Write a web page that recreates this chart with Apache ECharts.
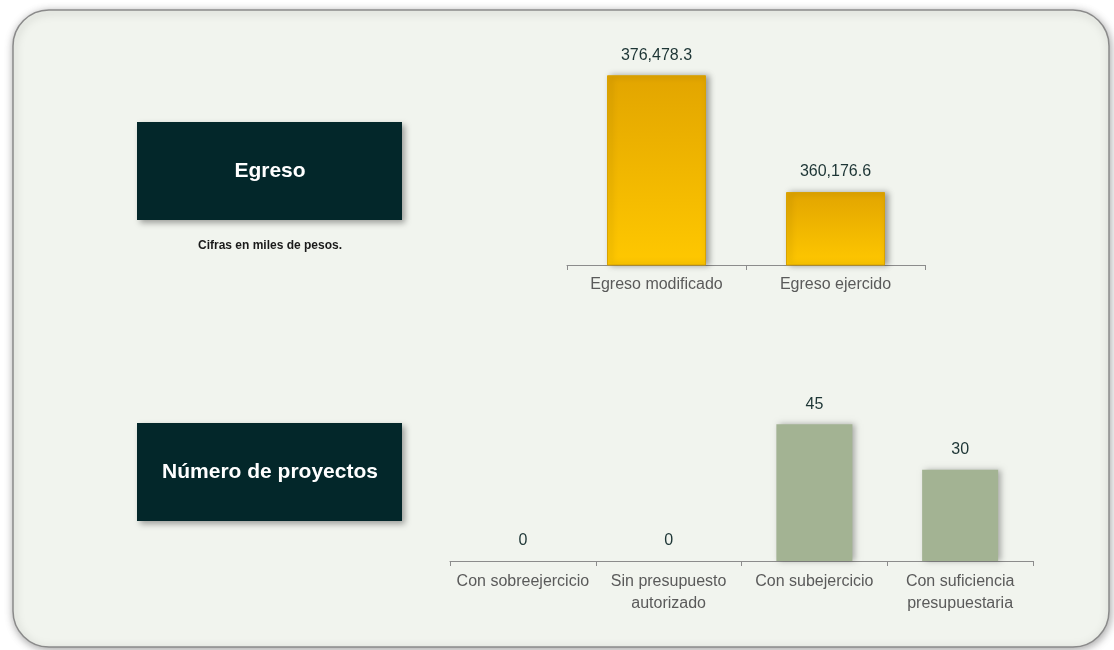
<!DOCTYPE html>
<html>
<head>
<meta charset="utf-8">
<script src="https://cdn.jsdelivr.net/npm/echarts@6/dist/echarts.min.js"></script>
<style>
  html, body { margin: 0; padding: 0; background: #ffffff; }
  #chart { width: 1114px; height: 650px; }
</style>
</head>
<body>
<div id="chart"></div>
<script>
// datos del egreso (miles de pesos)
var egresoCategorias = ['Egreso modificado', 'Egreso ejercido'];
var egresoValores = [376478.3, 360176.6];

// número de proyectos
var proyectosCategorias = ['Con sobreejercicio', 'Sin presupuesto\nautorizado', 'Con subejercicio', 'Con suficiencia\npresupuestaria'];
var proyectosValores = [0, 0, 45, 30];

var myChart = echarts.init(document.getElementById('chart'));

function formatoMiles(v) {
    var partes = v.toFixed(1).split('.');
    return partes[0].replace(/\B(?=(\d{3})+(?!\d))/g, ',') + '.' + partes[1];
}

var fuente = 'Arial, "Liberation Sans", sans-serif';
var labelColor = '#1d3535';
var catColor = '#5a5a5a';

var option = {
    backgroundColor: '#ffffff',
    animation: false,
    graphic: [
        // panel de fondo
        {
            type: 'rect',
            shape: { x: 13, y: 10, width: 1096, height: 637, r: 36 },
            style: {
                fill: '#f1f4ee',
                stroke: '#8a8a8a',
                lineWidth: 1.5,
                shadowColor: 'rgba(0,0,0,0.35)',
                shadowBlur: 8,
                shadowOffsetX: 1,
                shadowOffsetY: 2
            },
            z: -10
        },
        // caja Egreso
        {
            type: 'rect',
            shape: { x: 137, y: 122, width: 265, height: 98 },
            style: {
                fill: '#03272a',
                shadowColor: 'rgba(0,0,0,0.35)',
                shadowBlur: 6,
                shadowOffsetX: 3,
                shadowOffsetY: 3
            },
            z: 1
        },
        {
            type: 'text',
            x: 270, y: 171,
            style: {
                text: 'Egreso',
                fill: '#ffffff',
                font: 'bold 21px ' + fuente,
                align: 'center',
                verticalAlign: 'middle'
            },
            z: 2
        },
        {
            type: 'text',
            x: 270, y: 246,
            style: {
                text: 'Cifras en miles de pesos.',
                fill: '#1a1a1a',
                font: 'bold 12px ' + fuente,
                align: 'center',
                verticalAlign: 'middle'
            },
            z: 2
        },
        // caja Número de proyectos
        {
            type: 'rect',
            shape: { x: 137, y: 423, width: 265, height: 98 },
            style: {
                fill: '#03272a',
                shadowColor: 'rgba(0,0,0,0.35)',
                shadowBlur: 6,
                shadowOffsetX: 3,
                shadowOffsetY: 3
            },
            z: 1
        },
        {
            type: 'text',
            x: 270, y: 472,
            style: {
                text: 'Número de proyectos',
                fill: '#ffffff',
                font: 'bold 21px ' + fuente,
                align: 'center',
                verticalAlign: 'middle'
            },
            z: 2
        }
    ],
    grid: [
        { left: 567, top: 50, width: 358, height: 215 },
        { left: 450, top: 409, width: 583, height: 152 }
    ],
    xAxis: [
        {
            gridIndex: 0,
            type: 'category',
            data: egresoCategorias,
            axisLine: { lineStyle: { color: '#8c8c8c', width: 1 } },
            axisTick: { show: true, length: 5, lineStyle: { color: '#8c8c8c' } },
            axisLabel: { color: catColor, fontSize: 16, fontFamily: fuente, margin: 12 }
        },
        {
            gridIndex: 1,
            type: 'category',
            data: proyectosCategorias,
            axisLine: { lineStyle: { color: '#8c8c8c', width: 1 } },
            axisTick: { show: true, length: 5, lineStyle: { color: '#8c8c8c' } },
            axisLabel: { color: catColor, fontSize: 16, lineHeight: 22, interval: 0, fontFamily: fuente, margin: 10 }
        }
    ],
    yAxis: [
        { gridIndex: 0, type: 'value', min: 350000, max: 380000, show: false },
        { gridIndex: 1, type: 'value', min: 0, max: 50, show: false }
    ],
    series: [
        {
            name: 'Egreso',
            type: 'bar',
            xAxisIndex: 0,
            yAxisIndex: 0,
            data: egresoValores,
            barWidth: 99,
            itemStyle: {
                color: new echarts.graphic.LinearGradient(0, 0, 0, 1, [
                    { offset: 0, color: '#e2a500' },
                    { offset: 1, color: '#ffc800' }
                ]),
                borderColor: '#d9a200',
                borderWidth: 1,
                shadowColor: 'rgba(0,0,0,0.35)',
                shadowBlur: 6,
                shadowOffsetX: 3,
                shadowOffsetY: 0
            },
            label: {
                show: true,
                position: 'top',
                distance: 12,
                color: labelColor,
                fontSize: 16,
                fontFamily: fuente,
                formatter: function (p) { return formatoMiles(p.value); }
            }
        },
        {
            name: 'Número de proyectos',
            type: 'bar',
            xAxisIndex: 1,
            yAxisIndex: 1,
            data: proyectosValores,
            barWidth: 76,
            itemStyle: {
                color: '#a3b393',
                shadowColor: 'rgba(0,0,0,0.3)',
                shadowBlur: 6,
                shadowOffsetX: 3,
                shadowOffsetY: 0
            },
            label: {
                show: true,
                position: 'top',
                distance: 12,
                color: labelColor,
                fontSize: 16,
                fontFamily: fuente
            }
        }
    ]
};

myChart.setOption(option);
</script>
</body>
</html>
